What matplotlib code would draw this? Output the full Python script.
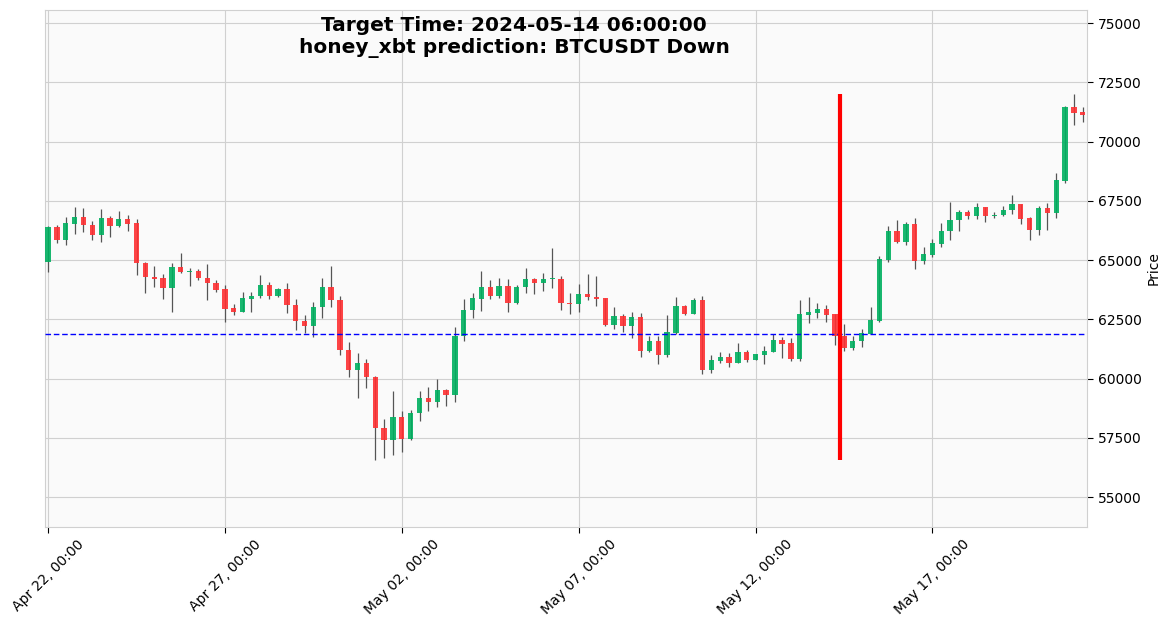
import numpy as np
import pandas as pd
import matplotlib
matplotlib.use("Agg")
import matplotlib.pyplot as plt

# 6-hour BTCUSDT candles
start_time = "2024-04-22 00:00"
opens = [64940, 66400, 65860, 66540, 66820, 66490, 66040, 66780, 66420, 66740,
         66570, 64880, 64290, 64250, 63840, 64720, 64480, 64550, 64250, 64040,
         63790, 62990, 62820, 63370, 63470, 63960, 63470, 63790, 63120, 62440,
         62240, 63030, 63880, 63330, 61220, 60350, 60660, 60080, 57930, 57390,
         58390, 57460, 58530, 59190, 59020, 59530, 59290, 61780, 62880, 63370,
         63880, 63470, 63920, 63210, 63850, 64210, 64020, 64210, 64210, 63190,
         63160, 63570, 63460, 63400, 62280, 62640, 62230, 62600, 61180, 61600,
         61000, 61940, 63060, 62730, 63320, 60380, 60760, 60910, 60670, 61120,
         60790, 61000, 61120, 61630, 61500, 60830, 62700, 62780, 62940, 62730,
         61810, 61310, 61570, 61890, 62450, 65010, 66240, 65770, 66530, 64970,
         65220, 65700, 66210, 66680, 67040, 66850, 67220, 66850, 66900, 67110,
         67350, 66760, 66260, 67180, 66980, 68330, 71480, 71230]
highs = [66420, 66490, 66810, 67230, 67190, 66640, 67150, 66870, 67060, 66910,
         66740, 64940, 64740, 64410, 64880, 65300, 64660, 64630, 64840, 64160,
         63930, 63140, 63660, 63640, 64380, 64070, 63820, 64020, 63350, 62680,
         63230, 64240, 64760, 63500, 61540, 61080, 60840, 60120, 58290, 59470,
         58650, 58690, 59470, 59660, 59970, 59570, 62170, 63350, 63610, 64540,
         64160, 64240, 64190, 63950, 64660, 64240, 64450, 65510, 64310, 63600,
         63990, 64400, 64330, 63400, 63020, 62730, 62820, 62770, 61780, 61780,
         62680, 63440, 63100, 63390, 63480, 60980, 61120, 61080, 61500, 61210,
         61050, 61360, 61870, 61740, 61700, 63320, 63440, 63180, 63100, 62740,
         62300, 61780, 62090, 63030, 65180, 66430, 66690, 66600, 66780, 65570,
         65880, 66560, 67440, 67130, 67130, 67420, 67260, 67020, 67290, 67730,
         67350, 66810, 67290, 67400, 68680, 71520, 71990, 71440]
lows = [64490, 65710, 65630, 66120, 66180, 65830, 65760, 65970, 66390, 66210,
        64370, 63600, 63860, 63350, 62790, 64460, 63900, 64170, 63300, 63660,
        62380, 62670, 62810, 62790, 63400, 63350, 63440, 62750, 62050, 61910,
        61750, 62550, 63020, 60990, 60080, 59180, 59600, 56580, 56650, 56790,
        56900, 57420, 58210, 58650, 58800, 58860, 59010, 61580, 62550, 62850,
        63340, 63400, 62810, 63140, 63610, 63570, 63710, 63820, 62890, 62730,
        62820, 63330, 63080, 62230, 62110, 61980, 61730, 60900, 61140, 60600,
        60910, 61870, 62670, 62710, 60180, 60220, 60640, 60480, 60640, 60710,
        60790, 60620, 61120, 60880, 60760, 60760, 62360, 62540, 62380, 61430,
        61150, 61220, 61330, 61890, 62370, 64940, 65710, 65630, 64620, 64820,
        65110, 65570, 65830, 66220, 66740, 66740, 66610, 66780, 66850, 66940,
        66530, 65860, 66050, 66280, 66770, 68270, 70710, 70830]
closes = [66400, 65860, 66570, 66820, 66460, 66040, 66780, 66420, 66740, 66540,
          64860, 64270, 64220, 63840, 64720, 64480, 64550, 64230, 64020, 63750,
          62950, 62820, 63410, 63500, 63960, 63470, 63790, 63090, 62410, 62240,
          63030, 63880, 63300, 61190, 60350, 60660, 60050, 57900, 57390, 58390,
          57460, 58560, 59190, 59020, 59530, 59290, 61810, 62900, 63410, 63880,
          63470, 63920, 63210, 63880, 64210, 64020, 64210, 64230, 63170, 63160,
          63570, 63460, 63370, 62280, 62640, 62230, 62600, 61180, 61600, 61000,
          61980, 63060, 62730, 63320, 60380, 60790, 60910, 60670, 61120, 60790,
          61040, 61160, 61630, 61470, 60830, 62740, 62810, 62940, 62700, 61780,
          61310, 61600, 61920, 62480, 65050, 66240, 65770, 66530, 64970, 65260,
          65730, 66240, 66700, 67040, 66850, 67220, 66850, 66920, 67130, 67350,
          66730, 66260, 67180, 66980, 68370, 71480, 71200, 71110]

title_lines = ["Target Time: 2024-05-14 06:00:00",
               "honey_xbt prediction: BTCUSDT Down"]
vline_time = "2024-05-14 09:00"
hline_price = 61880
tick_every = 20
ylim = (53740, 75550)

UP_COLOR = "#00b060"
DOWN_COLOR = "#fe3032"
WICK_COLOR = "#555555"
GRID_COLOR = "#d0d0d0"

# ---------------------------------------------------------------------------

times = pd.date_range(start_time, periods=len(opens), freq="6h")
o = np.array(opens, dtype=float)
h = np.array(highs, dtype=float)
l = np.array(lows, dtype=float)
c = np.array(closes, dtype=float)
idx = np.arange(len(o))
up = c >= o
colors = np.where(up, UP_COLOR, DOWN_COLOR)

fig = plt.figure(figsize=(11.69, 6.27), dpi=100)
ax = fig.add_axes([0.0385, 0.1595, 0.8915, 0.8245])
ax.set_facecolor("#fafafa")
ax.set_axisbelow(True)
ax.grid(True, color=GRID_COLOR, linewidth=0.8, linestyle="-")
for sp in ax.spines.values():
    sp.set_color(GRID_COLOR)

# wicks then bodies
ax.vlines(idx, l, h, color=WICK_COLOR, linewidth=0.9, zorder=2)
body_h = np.maximum(np.abs(c - o), 25)
ax.bar(idx, body_h, bottom=np.minimum(o, c), width=0.6,
       color=colors, alpha=0.9, linewidth=0, zorder=3)

# reference lines
ax.axhline(hline_price, color="blue", linestyle="--", linewidth=1.0,
           dashes=(4, 2), zorder=4)
t_num = times.asi8.astype(float)
v_x = np.interp(pd.Timestamp(vline_time).value, t_num, idx)
ax.vlines(v_x, l.min(), h.max(), color="red", linewidth=3.0, zorder=5)

ax.set_xlim(-0.35, len(o) - 0.5)
ax.set_ylim(*ylim)

ticks = idx[::tick_every]
ax.set_xticks(ticks)
ax.set_xticklabels([times[i].strftime("%b %d, %H:%M") for i in ticks],
                   rotation=45, ha="center", fontsize=10)
ax.set_yticks(np.arange(55000, 75001, 2500))
ax.yaxis.tick_right()
ax.yaxis.set_label_position("right")
ax.set_ylabel("Price", fontsize=10)
ax.tick_params(axis="both", labelsize=10, length=4, color="black")

fig.text(0.44, 0.974, "\n".join(title_lines), ha="center", va="top",
         fontsize=14.5, fontweight="bold", linespacing=1.15)

fig.savefig("out.png", dpi=100)
